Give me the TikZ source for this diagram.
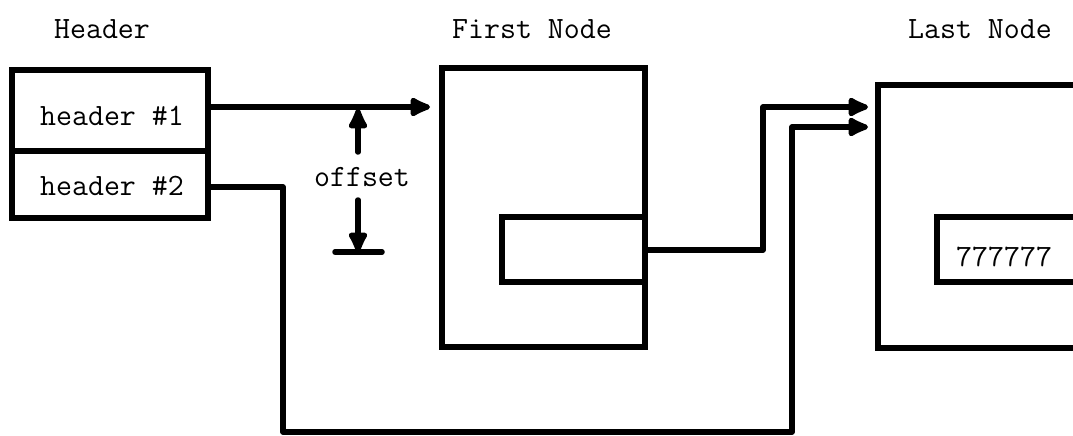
\documentclass[tikz,border=0pt]{standalone}
\usetikzlibrary{arrows.meta,calc}
\begin{document}
\begin{tikzpicture}[x=1pt,y=-1pt,
  box/.style={draw,line width=5.5pt,rectangle,inner sep=0pt,outer sep=0pt},
  wire/.style={line width=5.5pt,line join=round,line cap=round},
  arrowwire/.style={wire,-{Latex[length=26pt,width=23pt,round]}},
  lbl/.style={font=\fontsize{31}{36}\selectfont\ttfamily,inner sep=0pt}]
\path[use as bounding box] (0,0) rectangle (1073,436);
\clip (0,0) rectangle (1073,436);

% column titles
\node[lbl] (tH) at (102,29) {Header};
\node[lbl] (tF) at (532,29) {First Node};
\node[lbl] (tL) at (980,29) {Last Node};

% header block
\node[box,minimum width=196pt,minimum height=81pt] (h1) at (110,110.5) {};
\node[box,minimum width=196pt,minimum height=67pt] (h2) at (110,184.5) {};
\node[lbl,anchor=base] (h1t) at (112,125) {header \#1};
\node[lbl,anchor=base] (h2t) at (112,195) {header \#2};

% first node with its link field
\node[box,minimum width=203pt,minimum height=279pt] (fn) at (543.5,207.5) {};
\node[box,minimum width=143pt,minimum height=65pt] (fi) at (573.5,249.5) {};

% last node with its end marker
\node[box,minimum width=240pt,minimum height=263pt] (ln) at (998,216.5) {};
\node[box,minimum width=180pt,minimum height=65pt] (li) at (1027,249.5) {};
\node[lbl,anchor=west] (lt) at (956,257) {777777};

% header #1 points at the first node
\coordinate (a1) at (208,107);
\draw[arrowwire] (a1) -- ($(a1 -| fn.west)+(-12,0)$);

% offset marker
\coordinate (oU) at (358,152);
\coordinate (oD) at (358,200);
\coordinate (oB) at (358,252);
\draw[arrowwire] (oU) -- ($(oU |- a1)+(0,2)$);
\draw[arrowwire] (oD) -- (oB);
\draw[wire] ($(oB)+(-23,0)$) -- ($(oB)+(24,0)$);
\node[lbl] (off) at (362,177) {offset};

% link from the first node to the last node
\coordinate (l1) at (763,107);
\coordinate (l2) at (792,127);
\draw[arrowwire] (fi.east |- 0,250) -| (l1) -- ($(l1 -| ln.west)+(-10,0)$);

% header #2 points at the last node
\draw[arrowwire] (208,187) -- (283,187) -- (283,432) -| (l2) -- ($(l2 -| ln.west)+(-10,0)$);
\end{tikzpicture}
\end{document}
